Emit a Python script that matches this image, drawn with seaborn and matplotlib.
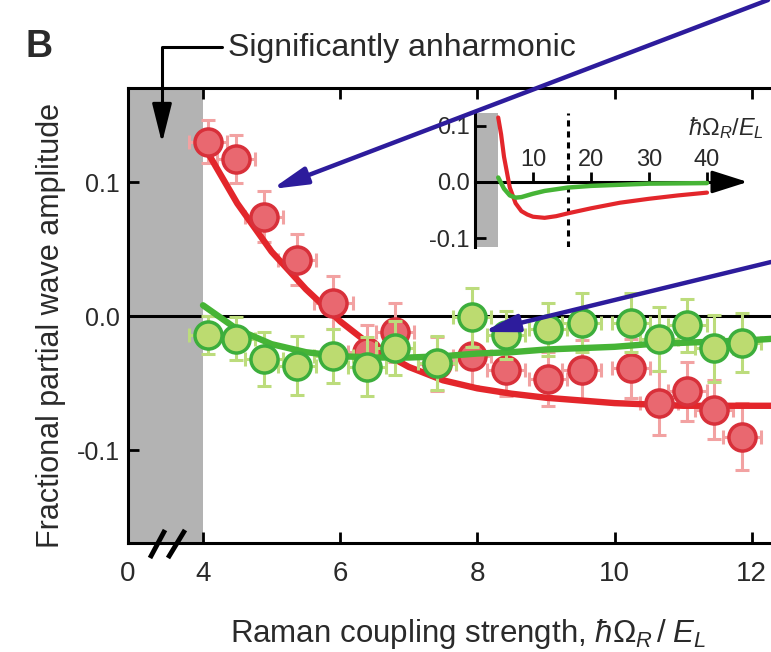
import numpy as np
import pandas as pd
import matplotlib
matplotlib.use("Agg")
import matplotlib.pyplot as plt
import seaborn as sns
from matplotlib.lines import Line2D

# ---------------- data ----------------
x_pts = [4.07, 4.48, 4.89, 5.37, 5.90, 6.39, 6.80, 7.41, 7.92, 8.42, 9.03, 9.52,
         10.24, 10.65, 11.06, 11.45, 11.86]
x_err = [0.28] * len(x_pts)

red_y = [0.130, 0.117, 0.074, 0.042, 0.010, -0.027, -0.012, -0.036, -0.030, -0.040,
         -0.047, -0.040, -0.039, -0.065, -0.056, -0.070, -0.090]
red_yerr = [0.016, 0.018, 0.019, 0.019, 0.020, 0.020, 0.022, 0.020, 0.022, 0.020,
            0.020, 0.022, 0.022, 0.024, 0.022, 0.022, 0.025]

green_y = [-0.014, -0.017, -0.032, -0.037, -0.030, -0.038, -0.024, -0.035, -0.001,
           -0.014, -0.010, -0.005, -0.005, -0.017, -0.007, -0.024, -0.020]
green_yerr = [0.014, 0.016, 0.020, 0.022, 0.020, 0.022, 0.020, 0.020, 0.022, 0.018,
              0.020, 0.022, 0.022, 0.024, 0.020, 0.025, 0.022]

fit_x = [4.0, 4.5, 5.0, 5.5, 6.0, 6.5, 7.0, 7.5, 8.0, 8.5, 9.0, 9.5, 10.0, 10.5,
         11.0, 11.5, 12.0, 12.3]
red_fit = [0.128, 0.084, 0.048, 0.020, -0.004, -0.024, -0.038, -0.048, -0.054,
           -0.058, -0.061, -0.063, -0.065, -0.066, -0.067, -0.067, -0.067, -0.067]
green_fit = [0.008, -0.010, -0.021, -0.027, -0.030, -0.031, -0.031, -0.030, -0.028,
             -0.027, -0.025, -0.024, -0.023, -0.021, -0.020, -0.019, -0.018, -0.017]

inset_red_x = [4, 4.5, 5, 6, 7, 8, 9, 10, 12, 14, 16, 20, 25, 30, 35, 40]
inset_red_y = [0.115, 0.085, 0.045, -0.010, -0.038, -0.052, -0.058, -0.062, -0.064,
               -0.061, -0.056, -0.047, -0.037, -0.030, -0.024, -0.019]
inset_green_x = [4, 5, 6, 7, 8, 10, 12, 16, 20, 25, 30, 40]
inset_green_y = [0.008, -0.012, -0.024, -0.028, -0.027, -0.021, -0.016, -0.010,
                 -0.007, -0.005, -0.003, -0.002]

x_tick_pos = [4, 6, 8, 10, 12]
x_tick_labels = ["4", "6", "8", "10", "12"]
y_ticks = [0.1, 0.0, -0.1]
y_tick_labels = ["0.1", "0.0", "-0.1"]
inset_xticks = [10, 20, 30, 40]
inset_xtick_labels = ["10", "20", "30", "40"]

# ---------------- style ----------------
sns.set_theme(style="ticks")
plt.rcParams["font.family"] = ["Liberation Sans", "DejaVu Sans"]
plt.rcParams["mathtext.fontset"] = "custom"
plt.rcParams["mathtext.rm"] = "Liberation Sans"
plt.rcParams["mathtext.it"] = "Liberation Sans:italic"
plt.rcParams["mathtext.bf"] = "Liberation Sans:bold"

TXT = "#2a2a2a"
GRAY = "#b3b3b3"
RED_FACE, RED_EDGE, RED_ERR, RED_LINE = "#e96870", "#d8303a", "#f2a2a2", "#e3262b"
GR_FACE, GR_EDGE, GR_ERR, GR_LINE = "#bcdb70", "#3cae3c", "#bcdc7c", "#46b436"
BLUE = "#2d1c9c"

W, H = 771, 652
fig = plt.figure(figsize=(W / 100, H / 100), dpi=100)

# main axes
left_px, top_px, bot_px = 128, 88, 543
ax = fig.add_axes([left_px / W, 1 - bot_px / H, 1 - left_px / W, (bot_px - top_px) / H])
PXU = 68.6
X0 = 4 - (203 - left_px) / PXU
XMAX = X0 + (W - left_px) / PXU
ax.set_xlim(X0, XMAX)
ax.set_ylim(-(bot_px - 316) / 1340, (316 - top_px) / 1340)

ax.axvspan(X0, 4.0, color=GRAY, zorder=0, lw=0)
ax.axhline(0, color="black", lw=2.2, zorder=1)

# red series
ax.errorbar(x_pts, red_y, yerr=red_yerr, xerr=x_err, fmt="none", ecolor=RED_ERR,
            elinewidth=2.2, capsize=5, capthick=2.2, zorder=3)
sns.lineplot(x=fit_x, y=red_fit, ax=ax, color=RED_LINE, lw=4.6, zorder=4)
sns.scatterplot(x=x_pts, y=red_y, ax=ax, s=380, color=RED_FACE, edgecolor=RED_EDGE,
                linewidth=2.5, zorder=5)
# green series
ax.errorbar(x_pts, green_y, yerr=green_yerr, xerr=x_err, fmt="none", ecolor=GR_ERR,
            elinewidth=2.2, capsize=5, capthick=2.2, zorder=6)
sns.lineplot(x=fit_x, y=green_fit, ax=ax, color=GR_LINE, lw=4.6, zorder=7)
sns.scatterplot(x=x_pts, y=green_y, ax=ax, s=380, color=GR_FACE, edgecolor=GR_EDGE,
                linewidth=2.5, zorder=8)

for s in ["left", "top", "bottom"]:
    ax.spines[s].set_linewidth(2.2)
    ax.spines[s].set_color("black")
ax.spines["right"].set_visible(False)

ax.set_xticks([X0] + x_tick_pos, ["0"] + x_tick_labels)
ax.set_yticks(y_ticks, y_tick_labels)
ax.tick_params(axis="both", direction="in", length=8, width=2, color="black",
               labelcolor=TXT, top=True, right=False)
ax.tick_params(axis="x", labelsize=20, pad=13)
ax.tick_params(axis="y", labelsize=18, pad=6)

ax.set_xlabel(r"Raman coupling strength, $\hbar\Omega_R\,/\;E_L$", fontsize=22.5, color=TXT)
ax.xaxis.set_label_coords((468 - left_px) / (W - left_px), (bot_px - 617) / (bot_px - top_px))
ax.set_ylabel("Fractional partial wave amplitude", fontsize=22, color=TXT)
ax.yaxis.set_label_coords((66 - left_px) / (W - left_px), (bot_px - 326) / (bot_px - top_px))

# axis break marks
yb = ax.get_ylim()[0]
for xa, xb in [(X0 + 22 / PXU, X0 + 37 / PXU), (X0 + 40 / PXU, X0 + 57 / PXU)]:
    ax.plot([xa, xb], [yb - 15 / 1340, yb + 13 / 1340], color="black", lw=3.5,
            clip_on=False, solid_capstyle="butt", zorder=10)

ax.set_zorder(2)
ax.patch.set_visible(False)

# ---------------- inset ----------------
axin = fig.add_axes([475 / W, 1 - 247 / H, 290 / W, 134 / H])
axin.set_zorder(1)
axin.patch.set_alpha(0)
axin.set_xlim(0, 50)
axin.set_ylim(-0.116, 0.123)
axin.axvspan(0, 4, color=GRAY, lw=0, zorder=0)
axin.axvline(16, color="black", lw=2.2, ls=(0, (2, 1.6)), zorder=1)
sns.lineplot(x=inset_red_x, y=inset_red_y, ax=axin, color=RED_LINE, lw=3, zorder=3)
sns.lineplot(x=inset_green_x, y=inset_green_y, ax=axin, color=GR_LINE, lw=3.2, zorder=4)
axin.spines["right"].set_visible(False)
axin.spines["bottom"].set_visible(False)
axin.spines["left"].set_linewidth(2.2)
axin.spines["left"].set_color("black")
axin.spines["top"].set_position(("data", 0))
axin.spines["top"].set_bounds(0, 43)
axin.spines["top"].set_linewidth(2.2)
axin.spines["top"].set_color("black")
axin.xaxis.set_ticks_position("top")
axin.set_xticks(inset_xticks, inset_xtick_labels)
axin.set_yticks(y_ticks, y_tick_labels)
axin.tick_params(axis="x", direction="out", length=7, width=2, labelsize=17, pad=1,
                 color="black", labelcolor=TXT)
axin.tick_params(axis="y", direction="in", length=8, width=2, labelsize=17, pad=4,
                 color="black", labelcolor=TXT)
axin.annotate("", xy=(47, 0), xytext=(42, 0),
              arrowprops=dict(arrowstyle="-|>,head_length=1.1,head_width=0.35",
                              mutation_scale=20, color="black", lw=2.2,
                              shrinkA=0, shrinkB=0), annotation_clip=False)
fig.text(688 / W, 1 - 128 / H, r"$\hbar\Omega_R/E_L$", fontsize=17, color=TXT,
         ha="left", va="center")

# ---------------- annotations ----------------
fig.text(25 / W, 1 - 47 / H, "B", fontsize=27, fontweight="bold", color=TXT, va="center")
fig.text(228 / W, 1 - 48 / H, "Significantly anharmonic", fontsize=23, color=TXT,
         va="center", ha="left")
fig.add_artist(Line2D([222 / W, 162 / W, 162 / W], [1 - 47 / H, 1 - 47 / H, 1 - 115 / H],
                      transform=fig.transFigure, color="black", lw=2.2, zorder=20))
ax.annotate("", xy=(162 / W, 1 - 143 / H), xycoords="figure fraction",
            xytext=(162 / W, 1 - 105 / H), textcoords="figure fraction",
            arrowprops=dict(arrowstyle="-|>,head_length=1.6,head_width=0.4",
                            mutation_scale=15, color="black", lw=2.2,
                            shrinkA=0, shrinkB=0), annotation_clip=False, zorder=20)

for tip, start in [((4 + (272 - 203) / PXU, (316 - 189) / 1340), (768 / W, 1.0)),
                   ((4 + (483 - 203) / PXU, (316 - 332) / 1340), (1.0, 1 - 262 / H))]:
    ax.annotate("", xy=tip, xycoords="data", xytext=start, textcoords="figure fraction",
                arrowprops=dict(arrowstyle="-|>,head_length=1.6,head_width=0.4",
                                mutation_scale=13, color=BLUE, lw=3.2,
                                shrinkA=0, shrinkB=0), annotation_clip=False, zorder=30)

fig.savefig("out.png", dpi=100)
